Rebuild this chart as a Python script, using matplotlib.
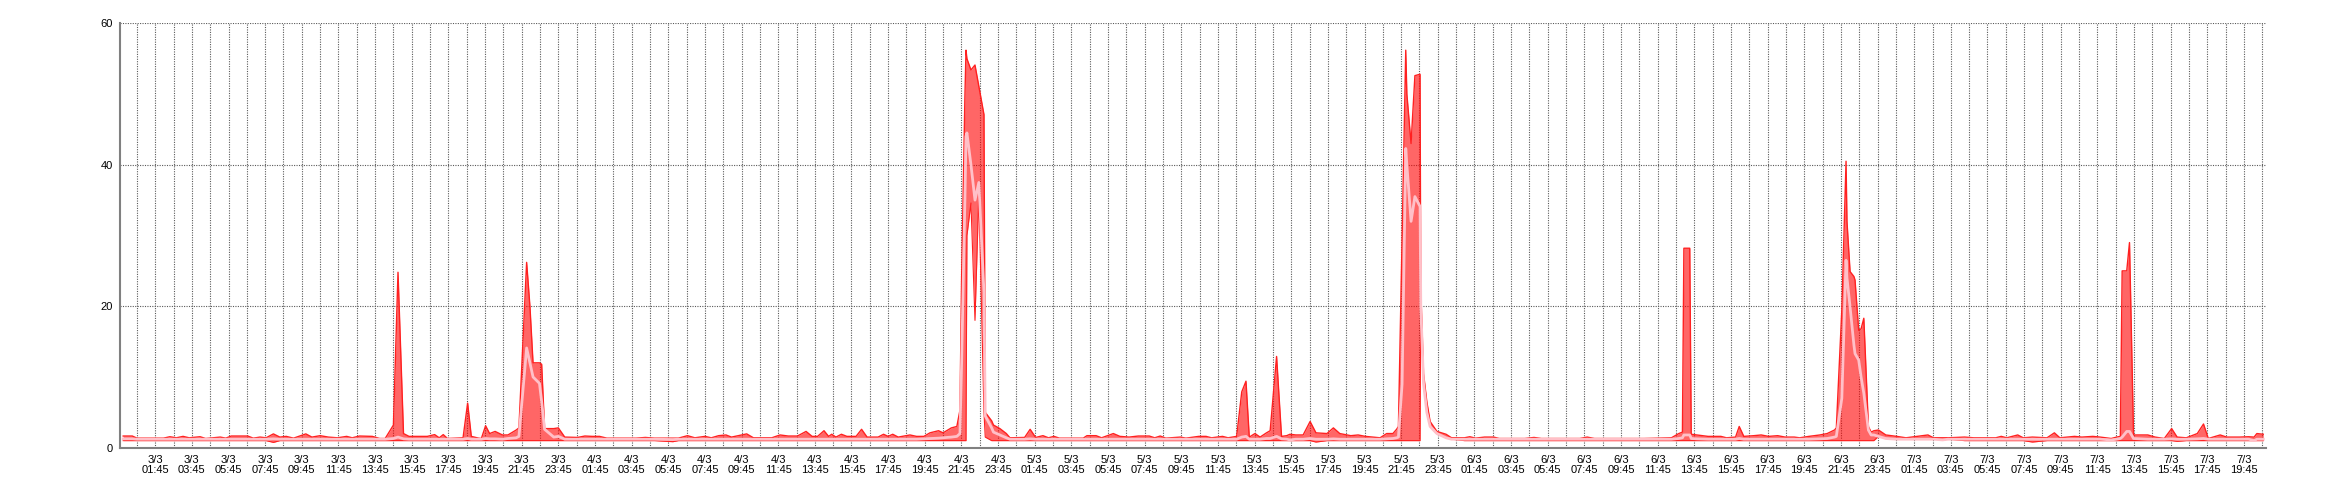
import matplotlib
matplotlib.use("Agg")
import matplotlib.pyplot as plt
import numpy as np

# hours since 3/3 00:00
t_hours = [0.0, 0.5, 0.75, 2.2, 2.55, 2.9, 3.27, 3.6, 4.2, 4.5, 5.3, 5.6, 5.9, 6.8, 7.1, 7.47, 7.8, 8.2, 8.55, 8.9,
           9.3, 9.97, 10.3, 10.75, 11.2, 11.7, 12.2, 12.5, 12.9, 13.6, 14.0, 14.3, 14.75, 15.0, 15.3, 15.6, 16.6, 17.0, 17.25, 17.47,
           17.7, 18.55, 18.8, 19.0, 19.4, 19.55, 19.78, 20.0, 20.3, 20.7, 21.0, 21.45, 21.6, 22.02, 22.2, 22.37, 22.72, 22.84, 23.0, 23.5,
           23.75, 24.1, 24.8, 25.2, 25.6, 26.0, 26.4, 28.0, 28.5, 29.0, 30.0, 30.3, 30.8, 31.2, 31.75, 32.1, 32.5, 32.9, 33.2, 34.03,
           34.4, 35.4, 35.85, 36.3, 36.8, 37.27, 37.6, 37.9, 38.25, 38.5, 38.67, 38.9, 39.2, 39.5, 40.0, 40.3, 40.6, 41.2, 41.5, 41.75,
           42.0, 42.3, 42.94, 43.3, 43.7, 44.03, 44.5, 44.75, 45.2, 45.5, 45.67, 45.76, 45.94, 46.0, 46.05, 46.27, 46.49, 46.7, 46.98, 47.05,
           47.4, 47.5, 47.85, 48.2, 48.4, 49.2, 49.5, 49.8, 50.2, 50.5, 50.8, 51.1, 52.4, 52.6, 53.1, 53.4, 54.04, 54.4, 54.9, 55.4,
           56.0, 56.3, 56.6, 56.9, 57.7, 58.0, 58.7, 59.1, 59.4, 60.0, 60.3, 60.77, 61.05, 61.28, 61.46, 61.77, 62.05, 62.4, 62.6, 62.95,
           63.22, 63.5, 63.68, 64.0, 64.4, 64.78, 65.1, 65.7, 66.05, 66.4, 67.0, 67.4, 67.8, 68.6, 68.96, 69.3, 69.5, 69.6, 69.8, 70.0,
           70.06, 70.29, 70.5, 70.78, 70.82, 70.97, 71.15, 71.33, 71.7, 72.2, 72.5, 73.2, 73.5, 73.8, 74.3, 74.8, 75.1, 76.5, 77.0, 77.4,
           79.5, 79.9, 80.3, 82.0, 83.0, 84.5, 84.9, 85.1, 85.18, 85.5, 85.58, 85.9, 86.5, 87.2, 87.5, 88.0, 88.2, 88.45, 89.0, 89.4,
           89.8, 90.3, 90.7, 91.2, 91.5, 92.0, 92.6, 93.0, 93.4, 93.5, 93.8, 94.03, 94.08, 94.25, 94.46, 94.52, 94.72, 94.85, 95.0, 95.25,
           95.4, 95.55, 95.8, 96.2, 96.8, 97.3, 98.5, 98.8, 99.3, 99.6, 100.5, 101.0, 102.2, 102.5, 102.8, 103.4, 103.7, 104.2, 105.0, 105.4,
           105.7, 106.5, 106.9, 107.5, 107.9, 108.5, 108.8, 109.0, 109.1, 109.35, 109.5, 109.72, 110.5, 110.9, 111.4, 111.8, 112.1, 112.6, 113.2, 113.54,
           113.8, 114.45, 114.8, 115.5, 116.0, 116.3, 116.45, 116.8]

max_vals = [1.65, 1.65, 1.35, 1.35, 1.55, 1.4, 1.6, 1.4, 1.55, 1.3, 1.5, 1.35, 1.65, 1.65, 1.35, 1.5, 1.4, 1.95, 1.5, 1.6,
            1.35, 1.95, 1.5, 1.7, 1.5, 1.4, 1.6, 1.4, 1.65, 1.6, 1.3, 1.3, 3.2, 24.8, 2.0, 1.6, 1.6, 1.85, 1.4, 1.85,
            1.3, 1.4, 6.3, 1.6, 1.35, 1.3, 3.1, 2.0, 2.3, 1.8, 1.8, 2.5, 2.8, 26.2, 20.0, 12.0, 12.0, 11.8, 2.7, 2.7,
            2.8, 1.5, 1.45, 1.65, 1.6, 1.6, 1.35, 1.35, 1.45, 1.35, 1.35, 1.35, 1.7, 1.4, 1.6, 1.4, 1.7, 1.8, 1.5, 1.95,
            1.4, 1.4, 1.8, 1.65, 1.65, 2.3, 1.6, 1.6, 2.4, 1.6, 1.9, 1.5, 1.9, 1.6, 1.6, 2.6, 1.5, 1.5, 1.9, 1.6,
            1.9, 1.5, 1.8, 1.6, 1.6, 2.1, 2.4, 2.1, 2.8, 3.0, 5.3, 24.0, 49.6, 56.2, 55.0, 53.4, 54.1, 51.1, 47.1, 5.0,
            3.8, 3.2, 2.7, 2.0, 1.4, 1.45, 2.6, 1.45, 1.7, 1.4, 1.6, 1.35, 1.35, 1.7, 1.7, 1.4, 2.0, 1.6, 1.5, 1.65,
            1.65, 1.4, 1.65, 1.35, 1.5, 1.35, 1.6, 1.6, 1.4, 1.6, 1.4, 1.6, 7.9, 9.4, 1.5, 2.0, 1.5, 2.1, 2.4, 12.9,
            1.6, 1.7, 1.9, 1.8, 1.8, 3.7, 2.1, 2.0, 2.8, 2.0, 1.7, 1.8, 1.6, 1.4, 2.0, 2.0, 2.6, 3.0, 30.0, 56.2,
            50.0, 43.0, 52.6, 52.8, 22.3, 10.5, 6.5, 3.7, 2.3, 1.9, 1.4, 1.4, 1.55, 1.35, 1.5, 1.5, 1.3, 1.3, 1.45, 1.3,
            1.3, 1.5, 1.3, 1.3, 1.3, 1.4, 2.0, 2.2, 28.2, 28.2, 1.9, 1.8, 1.6, 1.6, 1.4, 1.5, 3.0, 1.6, 1.7, 1.8,
            1.6, 1.7, 1.5, 1.5, 1.4, 1.6, 1.8, 2.0, 2.5, 2.8, 19.5, 40.5, 32.0, 24.9, 24.2, 23.7, 16.6, 16.8, 18.3, 3.0,
            2.2, 2.4, 2.5, 1.8, 1.6, 1.4, 1.8, 1.4, 1.4, 1.4, 1.5, 1.4, 1.4, 1.6, 1.4, 1.8, 1.4, 1.5, 1.4, 2.1,
            1.4, 1.6, 1.5, 1.6, 1.5, 1.3, 1.5, 1.6, 25.0, 25.0, 29.0, 1.8, 1.8, 1.5, 1.3, 2.7, 1.5, 1.4, 2.0, 3.35,
            1.3, 1.8, 1.5, 1.5, 1.55, 1.5, 2.0, 1.9]

avg_vals = [1.25, 1.25, 1.2, 1.2, 1.2, 1.2, 1.2, 1.2, 1.2, 1.2, 1.2, 1.2, 1.2, 1.2, 1.2, 1.2, 1.2, 1.25, 1.2, 1.2,
            1.2, 1.2, 1.2, 1.2, 1.2, 1.2, 1.2, 1.2, 1.2, 1.2, 1.2, 1.2, 1.3, 1.5, 1.25, 1.2, 1.2, 1.2, 1.2, 1.2,
            1.2, 1.2, 1.3, 1.2, 1.2, 1.2, 1.3, 1.25, 1.25, 1.2, 1.3, 1.4, 1.6, 14.1, 12.0, 10.0, 9.1, 6.5, 2.6, 1.5,
            1.6, 1.2, 1.2, 1.2, 1.2, 1.2, 1.2, 1.2, 1.2, 1.2, 1.15, 1.2, 1.2, 1.2, 1.2, 1.2, 1.2, 1.2, 1.2, 1.2,
            1.2, 1.2, 1.2, 1.2, 1.2, 1.2, 1.2, 1.2, 1.2, 1.2, 1.2, 1.2, 1.2, 1.2, 1.2, 1.2, 1.2, 1.2, 1.2, 1.2,
            1.2, 1.2, 1.2, 1.2, 1.25, 1.3, 1.35, 1.4, 1.5, 1.6, 2.0, 12.0, 35.0, 44.0, 44.5, 40.0, 35.0, 37.5, 22.0, 4.5,
            2.8, 2.2, 1.8, 1.4, 1.2, 1.2, 1.25, 1.2, 1.2, 1.2, 1.2, 1.2, 1.2, 1.2, 1.2, 1.2, 1.2, 1.2, 1.2, 1.2,
            1.2, 1.2, 1.2, 1.2, 1.2, 1.2, 1.2, 1.2, 1.2, 1.2, 1.2, 1.2, 1.5, 1.6, 1.2, 1.2, 1.2, 1.3, 1.3, 1.6,
            1.25, 1.2, 1.1, 1.2, 1.2, 1.3, 1.2, 1.2, 1.25, 1.2, 1.2, 1.2, 1.2, 1.2, 1.25, 1.3, 1.4, 1.5, 9.0, 42.3,
            40.0, 32.0, 35.5, 34.1, 20.0, 9.1, 5.0, 3.0, 2.0, 1.4, 1.2, 1.2, 1.2, 1.2, 1.2, 1.2, 1.2, 1.2, 1.2, 1.2,
            1.2, 1.2, 1.2, 1.2, 1.2, 1.2, 1.3, 1.4, 1.8, 1.8, 1.3, 1.25, 1.2, 1.2, 1.2, 1.2, 1.3, 1.2, 1.2, 1.2,
            1.2, 1.2, 1.2, 1.2, 1.2, 1.2, 1.25, 1.3, 1.5, 1.6, 7.0, 26.5, 24.0, 19.9, 14.5, 13.3, 12.4, 10.0, 7.7, 2.5,
            1.8, 1.8, 1.6, 1.3, 1.2, 1.2, 1.2, 1.2, 1.1, 1.2, 1.2, 1.2, 1.2, 1.2, 1.2, 1.2, 1.2, 1.2, 1.2, 1.2,
            1.2, 1.2, 1.2, 1.2, 1.2, 1.1, 1.2, 1.3, 1.5, 2.3, 2.3, 1.3, 1.2, 1.2, 1.2, 1.25, 1.2, 1.2, 1.25, 1.3,
            1.2, 1.2, 1.2, 1.2, 1.2, 1.0, 1.2, 1.2]

min_vals = [1.0] * 17 + [0.75] + [1.0] * 52 + [0.85] + [1.0] * 43 + [30.0, 34.6, 18.0, 36.0, 5.0, 1.5] + \
           [1.0] * 46 + [0.8] + [1.0] * 17 + [29.0, 27.7, 26.1, 20.0, 12.0, 2.5, 1.2] + [1.0] * 51 + \
           [14.0, 14.8, 11.0, 11.0, 11.0, 8.0, 5.0, 1.5] + [1.0] * 7 + [0.8] + [1.0] * 18 + [0.9] + [1.0] * 18 + \
           [0.6] + [1.0] * 2

n = len(t_hours)
assert len(max_vals) == n and len(avg_vals) == n, (n, len(max_vals), len(avg_vals))
min_vals = (min_vals + [1.0] * n)[:n]

y_ticks = [0, 20, 40, 60]
major_hours = [1.75 + 2 * k for k in range(58)]
minor_hours = [0.75 + 2 * k for k in range(59)]
tick_labels = [f"{3 + int(h // 24)}/3\n{int(h % 24):02d}:45" for h in major_hours]

fig = plt.figure(figsize=(23.4, 5), dpi=100)
ax = fig.add_axes([119.5 / 2340, 1 - 447.7 / 500, (2266 - 119.5) / 2340, (447.7 - 23.3) / 500])

t = np.array(t_hours)
lo = np.minimum(np.array(min_vals), np.array(avg_vals))
hi = np.array(max_vals)
av = np.array(avg_vals)

ax.fill_between(t, lo, hi, color="#ff0000", alpha=0.6, linewidth=0, zorder=2)
ax.plot(t, hi, color="#ff2020", lw=1.0, zorder=3)
ax.plot(t, lo, color="#ff2020", lw=0.8, zorder=3)
ax.plot(t, av, color="#ffc0c8", lw=2.0, zorder=4)

ax.set_xlim(-0.2, 116.95)
ax.set_ylim(0, 60)
ax.set_yticks(y_ticks)
ax.set_yticklabels([str(v) for v in y_ticks])
ax.set_xticks(major_hours)
ax.set_xticks(minor_hours, minor=True)
ax.set_xticklabels(tick_labels, linespacing=1.05)

for tl in ax.get_xticklabels() + ax.get_yticklabels():
    tl.set_fontfamily("Liberation Sans")
    tl.set_fontsize(8)
    tl.set_color("#000000")

ax.tick_params(axis="both", which="both", length=0)
ax.tick_params(axis="x", pad=5)
ax.tick_params(axis="y", pad=5)

grid_kw = dict(color="#5a5a5a", linestyle=(0, (1, 1.2)), linewidth=0.8)
ax.grid(True, axis="x", which="both", **grid_kw)
ax.grid(True, axis="y", which="major", **grid_kw)
ax.set_axisbelow(True)

for side in ("top", "right"):
    ax.spines[side].set_visible(False)
for side in ("left", "bottom"):
    ax.spines[side].set_color("#808080")
    ax.spines[side].set_linewidth(1.5)

fig.savefig("out.png", dpi=100, facecolor="white")
